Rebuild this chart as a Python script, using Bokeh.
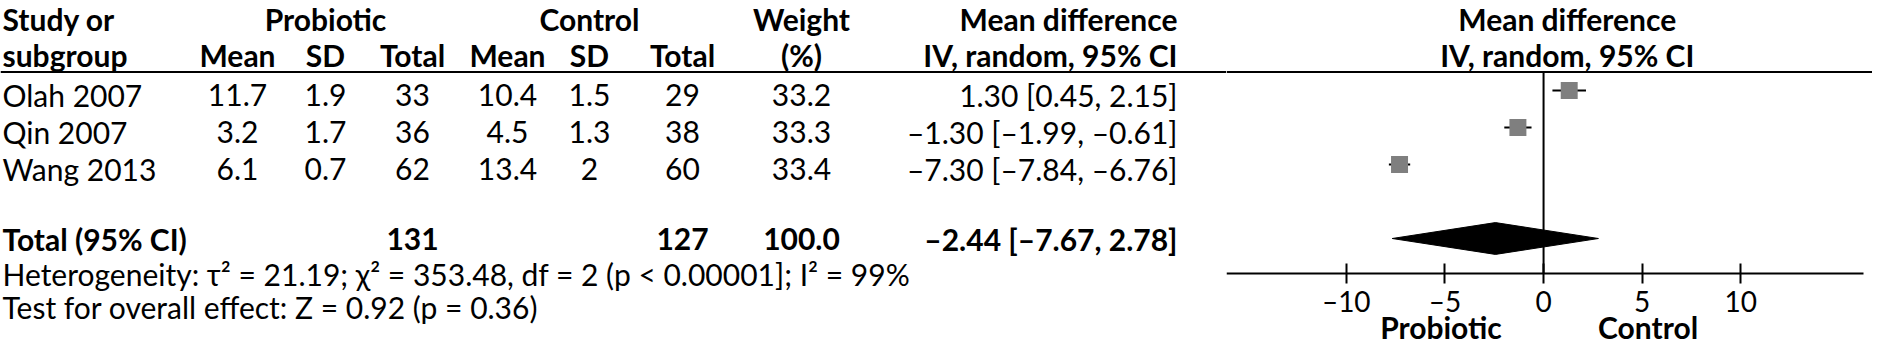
from bokeh.plotting import figure
from bokeh.layouts import row
from bokeh.models import Range1d, Span, FixedTicker, LinearAxis
from bokeh.core.properties import value
from bokeh.embed import file_html
from bokeh.resources import INLINE

# ---------------- data ----------------
studies = ["Olah 2007", "Qin 2007", "Wang 2013"]
pro_mean = [11.7, 3.2, 6.1]
pro_sd = [1.9, 1.7, 0.7]
pro_total = [33, 36, 62]
ctl_mean = [10.4, 4.5, 13.4]
ctl_sd = [1.5, 1.3, 2]
ctl_total = [29, 38, 60]
weight = [33.2, 33.3, 33.4]
md = [1.30, -1.30, -7.30]
md_lo = [0.45, -1.99, -7.84]
md_hi = [2.15, -0.61, -6.76]

total_pro = 131
total_ctl = 127
total_weight = 100.0
total_md = -2.44
total_lo = -7.67
total_hi = 2.78

tau2 = 21.19
chi2 = 353.48
het_df = 2
het_p = "0.00001"
i2 = 99
z_value = 0.92
z_p = 0.36

x_ticks = [-10, -5, 0, 5, 10]
favours = ["Probiotic", "Control"]
favours_x = [-5.2, 5.3]

# ---------------- layout ----------------
FONT = "Lato"
W, H = 1872, 344
TABLE_W = 1226
PLOT_W = W - TABLE_W
PX_PER_ROW = 37.0
FIRST_ROW_PX = 90.0
Y_TOP = -FIRST_ROW_PX / PX_PER_ROW
Y_BOTTOM = Y_TOP + H / PX_PER_ROW
AXIS_Y = 4.95
PX_PER_UNIT_X = 19.73
X_START = -16.07
X_END = X_START + PLOT_W / PX_PER_UNIT_X
AXIS_BOUNDS = (-16.07, 16.2)

COL_STUDY = 2
COL_PM, COL_PSD, COL_PN = 237, 325, 412
COL_CM, COL_CSD, COL_CN = 507, 589, 682
COL_W = 801
COL_MD = 1177

HEAD1, HEAD2, RULE_Y = -1.92, -0.946, -0.5
rows = [0, 1, 2]
TEXT_DY = 0.11
TOTAL_ROW = 4
HET_ROW, TEST_ROW = 4.97, 5.84
DIAMOND_H = 0.43
SQUARE = 17
NULL_EFFECT = 0
HEAD_X = 1.2
FAV_Y = 6.38
BODY = "30px"
TICK = "28px"


def dash(s):
    return s.replace("-", "\u2013")


def fmt_ci(m, lo, hi):
    return dash(f"{m:.2f} [{lo:.2f}, {hi:.2f}]")


def txt(p, xs, ys, texts, align="left", bold=False, size=BODY):
    p.text(x=xs, y=ys, text=texts, text_align=align, text_baseline="middle",
           text_font=value(FONT), text_font_size=size,
           text_font_style="bold" if bold else "normal", text_color="black")


def base_fig(width, x_range):
    p = figure(width=width, height=H, x_range=x_range,
               y_range=Range1d(Y_BOTTOM, Y_TOP), min_border=0,
               x_axis_location=None, y_axis_location=None, outline_line_color=None,
               toolbar_location=None, output_backend="svg")
    p.grid.visible = False
    p.background_fill_color = None
    p.border_fill_color = None
    return p


# ---------------- table figure ----------------
ta = base_fig(TABLE_W, Range1d(0, TABLE_W))

txt(ta, [COL_STUDY, COL_STUDY], [HEAD1, HEAD2], ["Study or", "subgroup"], bold=True)
txt(ta, [COL_PSD, COL_CSD], [HEAD1, HEAD1], ["Probiotic", "Control"], align="center", bold=True)
txt(ta, [COL_PM, COL_PSD, COL_PN, COL_CM, COL_CSD, COL_CN],
    [HEAD2] * 6, ["Mean", "SD", "Total", "Mean", "SD", "Total"], align="center", bold=True)
txt(ta, [COL_W, COL_W], [HEAD1, HEAD2], ["Weight", "(%)"], align="center", bold=True)
txt(ta, [COL_MD, COL_MD], [HEAD1, HEAD2], ["Mean difference", "IV, random, 95% CI"], align="right", bold=True)
ta.add_layout(Span(location=RULE_Y, dimension="width", line_color="black", line_width=2))

ty = [r + TEXT_DY for r in rows]
txt(ta, [COL_STUDY] * 3, ty, studies)
txt(ta, [COL_PM] * 3, ty, [f"{v:g}" for v in pro_mean], align="center")
txt(ta, [COL_PSD] * 3, ty, [f"{v:g}" for v in pro_sd], align="center")
txt(ta, [COL_PN] * 3, ty, [str(v) for v in pro_total], align="center")
txt(ta, [COL_CM] * 3, ty, [f"{v:g}" for v in ctl_mean], align="center")
txt(ta, [COL_CSD] * 3, ty, [f"{v:g}" for v in ctl_sd], align="center")
txt(ta, [COL_CN] * 3, ty, [str(v) for v in ctl_total], align="center")
txt(ta, [COL_W] * 3, ty, [f"{v:.1f}" for v in weight], align="center")
txt(ta, [COL_MD] * 3, ty, [fmt_ci(m, lo, hi) for m, lo, hi in zip(md, md_lo, md_hi)], align="right")

txt(ta, [COL_STUDY], [TOTAL_ROW], ["Total (95% CI)"], bold=True)
txt(ta, [COL_PN, COL_CN, COL_W], [TOTAL_ROW] * 3,
    [str(total_pro), str(total_ctl), f"{total_weight:.1f}"], align="center", bold=True)
txt(ta, [COL_MD], [TOTAL_ROW], [fmt_ci(total_md, total_lo, total_hi)], align="right", bold=True)

het = (f"Heterogeneity: \u03c4\u00b2 = {tau2:.2f}; \u03c7\u00b2 = {chi2:.2f}, df = {het_df} "
       f"(p < {het_p}]; I\u00b2 = {i2}%")
test = f"Test for overall effect: Z = {z_value:.2f} (p = {z_p:.2f})"
txt(ta, [COL_STUDY, COL_STUDY], [HET_ROW, TEST_ROW], [het, test])

# ---------------- forest plot figure ----------------
fp = base_fig(PLOT_W, Range1d(X_START, X_END))

txt(fp, [HEAD_X, HEAD_X], [HEAD1, HEAD2], ["Mean difference", "IV, random, 95% CI"], align="center", bold=True)
fp.add_layout(Span(location=RULE_Y, dimension="width", line_color="black", line_width=2))

fp.segment(x0=[NULL_EFFECT], y0=[RULE_Y], x1=[NULL_EFFECT], y1=[AXIS_Y], line_color="black", line_width=2)

fp.segment(x0=md_lo, y0=rows, x1=md_hi, y1=rows, line_color="black", line_width=2)
sizes = [SQUARE * (w / max(weight)) ** 0.5 for w in weight]
fp.scatter(x=md, y=rows, size=sizes, marker="square", fill_color="#7f7f7f", line_color=None)

fp.patch(x=[total_lo, total_md, total_hi, total_md],
         y=[TOTAL_ROW, TOTAL_ROW - DIAMOND_H, TOTAL_ROW, TOTAL_ROW + DIAMOND_H],
         fill_color="black", line_color="black", line_width=1)

ax = LinearAxis(fixed_location=AXIS_Y, bounds=AXIS_BOUNDS)
ax.ticker = FixedTicker(ticks=x_ticks)
ax.major_label_overrides = {t: dash(str(t)) for t in x_ticks}
ax.axis_line_width = 2
ax.axis_line_color = "black"
ax.major_tick_line_width = 2
ax.major_tick_line_color = "black"
ax.major_tick_in = 10
ax.major_tick_out = 10
ax.minor_tick_line_color = None
ax.major_label_standoff = 0
ax.major_label_text_font = FONT
ax.major_label_text_font_size = TICK
ax.major_label_text_color = "black"
fp.add_layout(ax, "below")

txt(fp, favours_x, [FAV_Y] * 2, favours, align="center", bold=True)

layout = row(ta, fp)
open("out.html", "w").write(file_html(layout, INLINE))
